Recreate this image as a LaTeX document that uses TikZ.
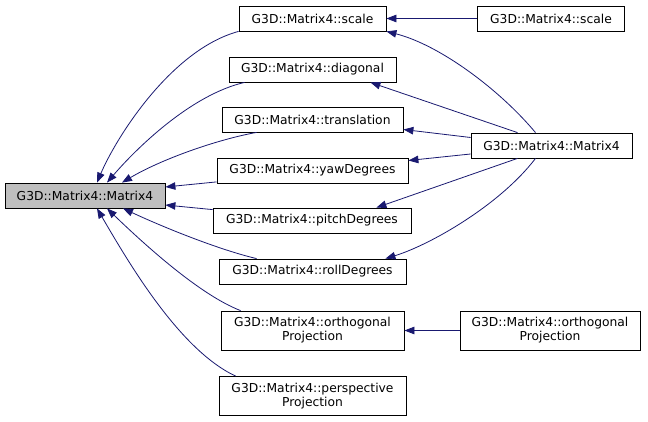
\documentclass[tikz,border=0pt]{standalone}
\usepackage{fontspec}
\setmainfont{DejaVu Sans}
\usetikzlibrary{calc,arrows.meta}
\definecolor{edgeblue}{HTML}{191970}
\definecolor{boxgray}{HTML}{BFBFBF}

\begin{document}
\begin{tikzpicture}[x=1pt,y=-1pt,
    fn/.style={draw,line width=0.8pt,inner sep=0pt,align=center,
      font=\fontsize{12.3}{14}\selectfont},
    link/.style={edgeblue,line width=0.8pt,
      -{Triangle[length=10pt,width=7.5pt]}}]
  \useasboundingbox (0,0) rectangle (648,422);
  % left column
  \node[fn,fill=boxgray,minimum width=160pt,minimum height=25pt]
    (main) at (85,195.5) {G3D::Matrix4::Matrix4};
  % middle column
  \node[fn,minimum width=147pt,minimum height=25pt]
    (scale) at (312.5,18.5) {G3D::Matrix4::scale};
  \node[fn,minimum width=167pt,minimum height=25pt]
    (diagonal) at (312.5,69.5) {G3D::Matrix4::diagonal};
  \node[fn,minimum width=181pt,minimum height=25pt]
    (translation) at (312.5,119.5) {G3D::Matrix4::translation};
  \node[fn,minimum width=191pt,minimum height=25pt]
    (yaw) at (312.5,170.5) {G3D::Matrix4::yawDegrees};
  \node[fn,minimum width=198pt,minimum height=25pt]
    (pitch) at (312,220.5) {G3D::Matrix4::pitchDegrees};
  \node[fn,minimum width=187pt,minimum height=25pt]
    (roll) at (312.5,271.5) {G3D::Matrix4::rollDegrees};
  \node[fn,minimum width=183pt,minimum height=39pt]
    (ortho) at (312.5,330.5) {G3D::Matrix4::orthogonal\\Projection};
  \node[fn,minimum width=187pt,minimum height=39pt]
    (persp) at (312.5,396) {G3D::Matrix4::perspective\\Projection};
  % right column
  \node[fn,minimum width=147pt,minimum height=25pt]
    (scaleR) at (551,18.5) {G3D::Matrix4::scale};
  \node[fn,minimum width=161pt,minimum height=25pt]
    (ctorR) at (551.5,145.5) {G3D::Matrix4::Matrix4};
  \node[fn,minimum width=180pt,minimum height=39pt]
    (orthoR) at (550,330.5) {G3D::Matrix4::orthogonal\\Projection};

  % callers of the left node
  \draw[link] (scale.south west)
    .. controls (170,50) and (115,140) .. ($(main.north)+(12,0)$);
  \draw[link] ($(diagonal.south west)+(16,0)$)
    .. controls (190,95) and (135,150) .. ($(main.north)+(22,0)$);
  \draw[link] ($(translation.south west)+(35,0)$)
    .. controls (215,140) and (160,160) .. ($(main.north)+(37,0)$);
  \draw[link] ($(yaw.south west)+(0,-1.5)$) -- ($(main.east)+(0,-8.5)$);
  \draw[link] ($(pitch.north west)+(0,2)$) -- ($(main.east)+(0,9.5)$);
  \draw[link] ($(roll.north west)+(38,0)$)
    .. controls (220,250) and (165,228) .. ($(main.south)+(38,0)$);
  \draw[link] ($(ortho.north west)+(20,0)$)
    .. controls (200,295) and (145,245) .. ($(main.south)+(22,0)$);
  \draw[link] ($(persp.north west)+(17,0)$)
    .. controls (180,350) and (130,265) .. ($(main.south)+(12,0)$);

  % callers of the middle nodes
  \draw[link] (scaleR) -- (scale);
  \draw[link] ($(ctorR.north)+(-16,0)$)
    .. controls (500,90) and (440,45) .. (scale.south east);
  \draw[link] ($(ctorR.north)+(-34,0)$) -- ($(diagonal.south east)+(-26,0)$);
  \draw[link] ($(ctorR.west)+(0,-8)$) -- ($(translation.east)+(0,10)$);
  \draw[link] ($(ctorR.west)+(0,8.5)$) -- ($(yaw.east)+(0,-10)$);
  \draw[link] ($(ctorR.south)+(-34,0)$) -- ($(pitch.north east)+(-35,0)$);
  \draw[link] ($(ctorR.south)+(-16,0)$)
    .. controls (500,205) and (430,245) .. ($(roll.north east)+(-21,0)$);
  \draw[link] (orthoR) -- (ortho);
\end{tikzpicture}
\end{document}
